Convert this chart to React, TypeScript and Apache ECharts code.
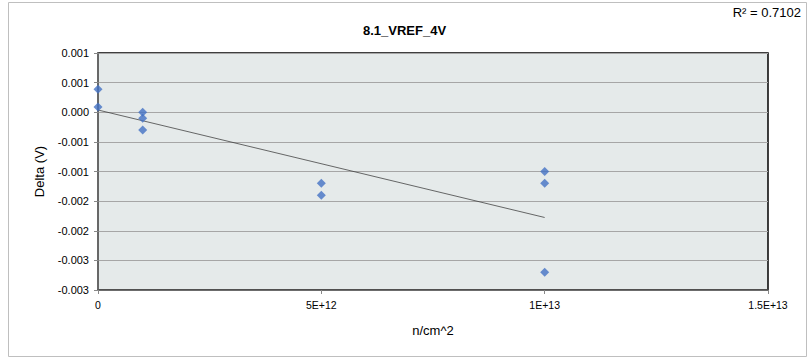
import React, { useEffect, useRef } from "react";
import * as echarts from "echarts";

const fluence = [0, 0, 1e12, 1e12, 1e12, 5e12, 5e12, 1e13, 1e13, 1e13];
const delta = [0.00039, 0.00009, 0.0, -0.0001, -0.0003, -0.0012, -0.0014, -0.001, -0.0012, -0.0027];
const yTickLabels = ["0.001", "0.001", "0.000", "-0.001", "-0.001", "-0.002", "-0.002", "-0.003", "-0.003"];
const xTickLabels = ["0", "5E+12", "1E+13", "1.5E+13"];
const title = "8.1_VREF_4V";
const rSquaredText = "R\u00b2 = 0.7102";

const FONT = "'Liberation Sans', Arial, sans-serif";

function regression(xs: number[], ys: number[]) {
  const n = xs.length;
  const mx = xs.reduce((a, b) => a + b, 0) / n;
  const my = ys.reduce((a, b) => a + b, 0) / n;
  let sxy = 0;
  let sxx = 0;
  for (let i = 0; i < n; i++) {
    sxy += (xs[i] - mx) * (ys[i] - my);
    sxx += (xs[i] - mx) * (xs[i] - mx);
  }
  const m = sxy / sxx;
  return { m, b: my - m * mx };
}

export default function App() {
  const ref = useRef<HTMLDivElement>(null);
  useEffect(() => {
    document.body.style.margin = "0";
    const chart = echarts.init(ref.current!, null, { renderer: "svg" });
    const { m, b } = regression(fluence, delta);
    const xMax = Math.max(...fluence);
    const trend = [
      [0, b],
      [xMax, b + m * xMax],
    ];
    chart.setOption({
      animation: false,
      backgroundColor: "#ffffff",
      title: {
        text: title,
        left: "center",
        top: 19,
        textStyle: { fontFamily: FONT, fontSize: 13, fontWeight: "bold", color: "#000" },
      },
      graphic: [
        {
          type: "rect",
          shape: { x: 8.5, y: 2.5, width: 798, height: 354 },
          style: { fill: "none", stroke: "#bfbfbf", lineWidth: 1 },
          silent: true,
        },
        {
          type: "text",
          right: 8,
          top: 6,
          style: { text: rSquaredText, font: "13px " + FONT, fill: "#000" },
        },
      ],
      grid: {
        left: 98,
        top: 53,
        width: 670,
        height: 237,
        show: true,
        backgroundColor: "#e5eaea",
        borderColor: "#000",
        borderWidth: 1.5,
      },
      xAxis: {
        type: "value",
        min: 0,
        max: 1.5e13,
        interval: 5e12,
        name: "n/cm^2",
        nameLocation: "middle",
        nameGap: 34,
        nameTextStyle: { fontFamily: FONT, fontSize: 13, color: "#000" },
        axisLine: { onZero: false, lineStyle: { color: "#595959", width: 1.5 } },
        axisTick: { show: true, length: 4, lineStyle: { color: "#888" } },
        axisLabel: {
          fontFamily: FONT,
          fontSize: 10.5,
          color: "#000",
          margin: 9,
          formatter: (v: number) => xTickLabels[Math.round(v / 5e12)],
        },
        splitLine: { show: false },
      },
      yAxis: {
        type: "value",
        min: -0.003,
        max: 0.001,
        interval: 0.0005,
        name: "Delta (V)",
        nameLocation: "middle",
        nameGap: 52,
        nameTextStyle: { fontFamily: FONT, fontSize: 13, color: "#000" },
        axisLine: { show: true, onZero: false, lineStyle: { color: "#777", width: 1.5 } },
        axisTick: { show: true, length: 4, lineStyle: { color: "#888" } },
        axisLabel: {
          fontFamily: FONT,
          fontSize: 11,
          color: "#000",
          margin: 9,
          formatter: (v: number) => yTickLabels[Math.round((0.001 - v) / 0.0005)],
        },
        splitLine: { show: true, lineStyle: { color: "#a6a6a6", width: 1 } },
      },
      series: [
        {
          type: "line",
          data: trend,
          symbol: "none",
          lineStyle: { color: "#3a3a3a", width: 0.75 },
          z: 2,
          silent: true,
        },
        {
          type: "scatter",
          data: fluence.map((x, i) => [x, delta[i]]),
          symbol: "diamond",
          symbolSize: 9,
          itemStyle: { color: "#4472c4" },
          z: 3,
        },
      ],
    });
    return () => chart.dispose();
  }, []);
  return <div ref={ref} style={{ position: "absolute", left: 0, top: 0, width: 809, height: 360 }} />;
}
